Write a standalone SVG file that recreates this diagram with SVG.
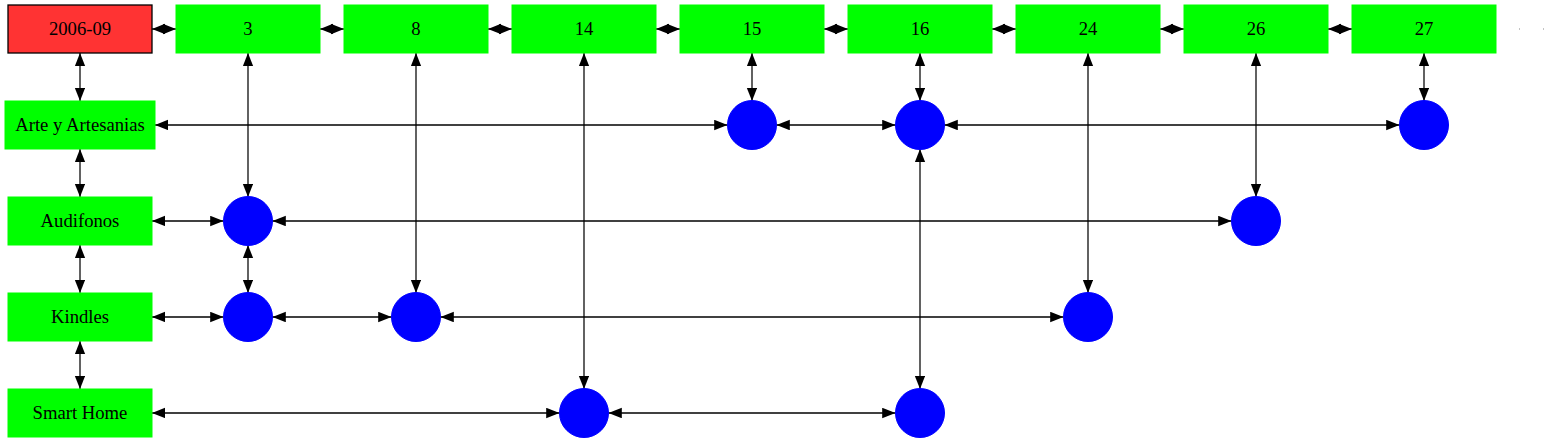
<svg xmlns="http://www.w3.org/2000/svg" width="1549" height="443" viewBox="0 0 1549 443">
<defs>
<style>
.box{fill:#00ff00;stroke:#00ff00;stroke-width:1}
.red{fill:#ff3333;stroke:#000;stroke-width:1.3}
.dot{fill:#0000ff;stroke:#0000ff;stroke-width:1}
.lbl{font-family:"Liberation Serif","Times New Roman",serif;font-size:18.67px;fill:#000;text-anchor:middle}
.e{stroke:#000;stroke-width:1.33;fill:none;marker-start:url(#ah);marker-end:url(#ah)}
.v{stroke:#3a3a3a;stroke-width:1.6}
</style>
<marker id="ah" markerUnits="userSpaceOnUse" markerWidth="14" markerHeight="11" refX="13.3" refY="5.25" orient="auto-start-reverse">
<path d="M0,0 L13.3,5.25 L0,10.5 z" fill="#000"/>
</marker>
</defs>
<rect width="1549" height="443" fill="#fff"/>
<g id="connectors">
<line class="e" x1="152" y1="29" x2="176" y2="29"/>
<line class="e" x1="320" y1="29" x2="344" y2="29"/>
<line class="e" x1="488" y1="29" x2="512" y2="29"/>
<line class="e" x1="656" y1="29" x2="680" y2="29"/>
<line class="e" x1="824" y1="29" x2="848" y2="29"/>
<line class="e" x1="992" y1="29" x2="1016" y2="29"/>
<line class="e" x1="1160" y1="29" x2="1184" y2="29"/>
<line class="e" x1="1328" y1="29" x2="1352" y2="29"/>
<line class="e v" x1="80" y1="53" x2="80" y2="101"/>
<line class="e v" x1="80" y1="149" x2="80" y2="197"/>
<line class="e v" x1="80" y1="245" x2="80" y2="293"/>
<line class="e v" x1="80" y1="341" x2="80" y2="389"/>
<line class="e v" x1="248" y1="53" x2="248" y2="197"/>
<line class="e v" x1="248" y1="245" x2="248" y2="293"/>
<line class="e v" x1="416" y1="53" x2="416" y2="293"/>
<line class="e v" x1="584" y1="53" x2="584" y2="389"/>
<line class="e v" x1="752" y1="53" x2="752" y2="101"/>
<line class="e v" x1="920" y1="53" x2="920" y2="101"/>
<line class="e v" x1="920" y1="149" x2="920" y2="389"/>
<line class="e v" x1="1088" y1="53" x2="1088" y2="293"/>
<line class="e v" x1="1256" y1="53" x2="1256" y2="197"/>
<line class="e v" x1="1424" y1="53" x2="1424" y2="101"/>
<line class="e" x1="155" y1="125" x2="727.5" y2="125"/>
<line class="e" x1="776.5" y1="125" x2="895.5" y2="125"/>
<line class="e" x1="944.5" y1="125" x2="1399.5" y2="125"/>
<line class="e" x1="152" y1="221" x2="223.5" y2="221"/>
<line class="e" x1="272.5" y1="221" x2="1231.5" y2="221"/>
<line class="e" x1="152" y1="317" x2="223.5" y2="317"/>
<line class="e" x1="272.5" y1="317" x2="391.5" y2="317"/>
<line class="e" x1="440.5" y1="317" x2="1063.5" y2="317"/>
<line class="e" x1="152" y1="413" x2="559.5" y2="413"/>
<line class="e" x1="608.5" y1="413" x2="895.5" y2="413"/>
</g>
<g id="n2006-09"><rect class="red" x="8" y="5" width="144" height="48"/><text class="lbl" x="80" y="34.5">2006-09</text></g>
<g id="t3"><rect class="box" x="176" y="5" width="144" height="48"/><text class="lbl" x="248" y="34.5">3</text></g>
<g id="t8"><rect class="box" x="344" y="5" width="144" height="48"/><text class="lbl" x="416" y="34.5">8</text></g>
<g id="t14"><rect class="box" x="512" y="5" width="144" height="48"/><text class="lbl" x="584" y="34.5">14</text></g>
<g id="t15"><rect class="box" x="680" y="5" width="144" height="48"/><text class="lbl" x="752" y="34.5">15</text></g>
<g id="t16"><rect class="box" x="848" y="5" width="144" height="48"/><text class="lbl" x="920" y="34.5">16</text></g>
<g id="t24"><rect class="box" x="1016" y="5" width="144" height="48"/><text class="lbl" x="1088" y="34.5">24</text></g>
<g id="t26"><rect class="box" x="1184" y="5" width="144" height="48"/><text class="lbl" x="1256" y="34.5">26</text></g>
<g id="t27"><rect class="box" x="1352" y="5" width="144" height="48"/><text class="lbl" x="1424" y="34.5">27</text></g>
<g id="dots"><rect x="1519" y="28.5" width="1" height="1" fill="#888"/><rect x="1543" y="28.5" width="1" height="1" fill="#888"/></g>
<g id="arte"><rect class="box" x="5" y="101" width="150" height="48"/><text class="lbl" x="80" y="130.5">Arte y Artesanias</text></g>
<g id="audifonos"><rect class="box" x="8" y="197" width="144" height="48"/><text class="lbl" x="80" y="226.5">Audifonos</text></g>
<g id="kindles"><rect class="box" x="8" y="293" width="144" height="48"/><text class="lbl" x="80" y="322.5">Kindles</text></g>
<g id="smarthome"><rect class="box" x="8" y="389" width="144" height="48"/><text class="lbl" x="80" y="418.5">Smart Home</text></g>
<g id="c_arte_15"><circle class="dot" cx="752" cy="125" r="24.5"/></g>
<g id="c_arte_16"><circle class="dot" cx="920" cy="125" r="24.5"/></g>
<g id="c_arte_27"><circle class="dot" cx="1424" cy="125" r="24.5"/></g>
<g id="c_aud_3"><circle class="dot" cx="248" cy="221" r="24.5"/></g>
<g id="c_aud_26"><circle class="dot" cx="1256" cy="221" r="24.5"/></g>
<g id="c_kin_3"><circle class="dot" cx="248" cy="317" r="24.5"/></g>
<g id="c_kin_8"><circle class="dot" cx="416" cy="317" r="24.5"/></g>
<g id="c_kin_24"><circle class="dot" cx="1088" cy="317" r="24.5"/></g>
<g id="c_sh_14"><circle class="dot" cx="584" cy="413" r="24.5"/></g>
<g id="c_sh_16"><circle class="dot" cx="920" cy="413" r="24.5"/></g>
</svg>
